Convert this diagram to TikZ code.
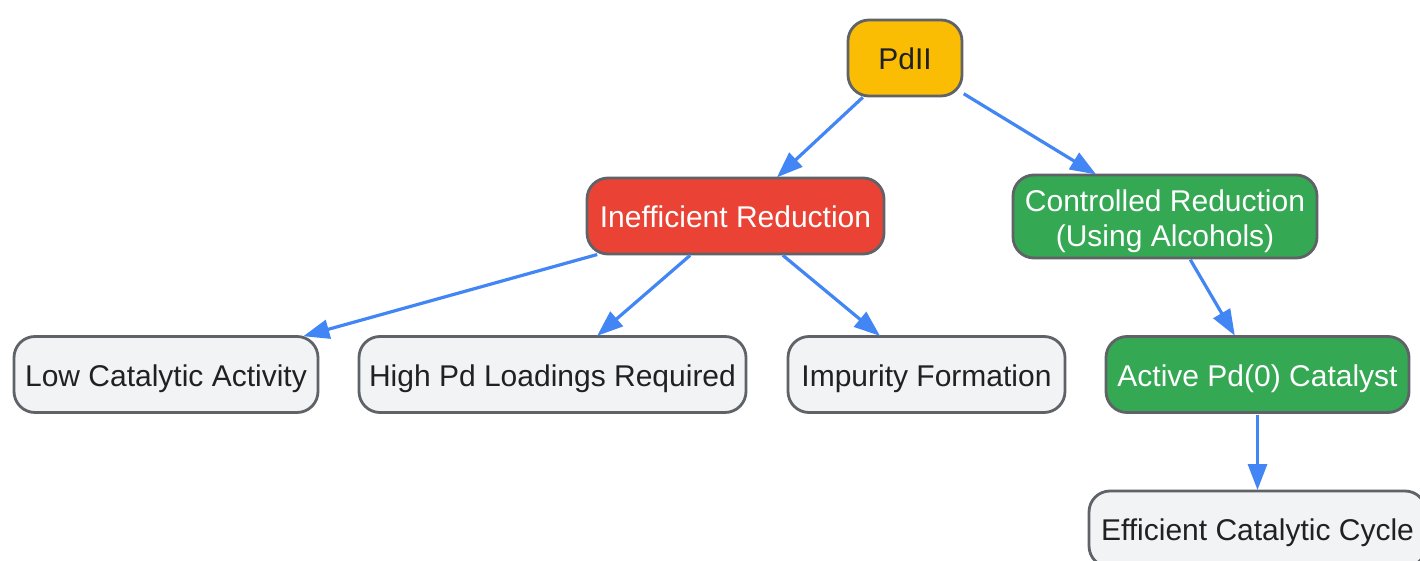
\documentclass[tikz,border=0pt]{standalone}
\usepackage{fontspec}
\setmainfont{Liberation Sans}
\usetikzlibrary{arrows.meta}
\definecolor{cYellow}{HTML}{FBBC04}
\definecolor{cRed}{HTML}{EA4335}
\definecolor{cGreen}{HTML}{34A853}
\definecolor{cGray}{HTML}{F1F3F4}
\definecolor{cBorder}{HTML}{5F6368}
\definecolor{cArrow}{HTML}{4285F4}
\definecolor{cText}{HTML}{202124}
\tikzset{
  box/.style={draw=cBorder, line width=2.8pt, rounded corners=21pt, inner sep=0pt, outer sep=0pt,
    minimum height=76pt, align=center, font=\fontsize{30}{35}\selectfont, text=cText,
    text height=25pt, text depth=2pt},
  yellowbox/.style={box, fill=cYellow},
  redbox/.style={box, fill=cRed, text=white},
  greenbox/.style={box, fill=cGreen, text=white},
  graybox/.style={box, fill=cGray},
  conn/.style={draw=cArrow, line width=3.2pt, -{Triangle[length=26pt,width=19pt]}, shorten <=2pt, shorten >=1pt}
}
\begin{document}
\begin{tikzpicture}[x=1pt,y=-1pt]
\useasboundingbox[fill=white] (0,0) rectangle (1420,561);
\node[yellowbox, minimum width=114pt] (pd) at (905,58) {PdII};
\node[redbox, minimum width=297pt] (ineff) at (735.5,216) {Inefficient Reduction};
\node[greenbox, minimum width=304pt, minimum height=83pt, text height=63.6pt, text depth=4pt] (ctrl) at (1165,216.5) {Controlled Reduction\\(Using Alcohols)};
\node[graybox, minimum width=304pt] (low) at (166,374.5) {Low Catalytic Activity};
\node[graybox, minimum width=387pt] (high) at (552.5,374.5) {High Pd Loadings Required};
\node[graybox, minimum width=277pt] (imp) at (926.5,374.5) {Impurity Formation};
\node[greenbox, minimum width=303pt] (act) at (1257.5,374.5) {Active Pd(0) Catalyst};
\node[graybox, minimum width=337pt] (eff) at (1257.5,529) {Efficient Catalytic Cycle};
\draw[conn] (pd) -- (ineff);
\draw[conn] (pd) -- (ctrl);
\draw[conn] (ineff) -- (low);
\draw[conn] (ineff) -- (high);
\draw[conn] (ineff) -- (imp);
\draw[conn] (ctrl) -- (act);
\draw[conn] (act) -- (eff);
\end{tikzpicture}
\end{document}
